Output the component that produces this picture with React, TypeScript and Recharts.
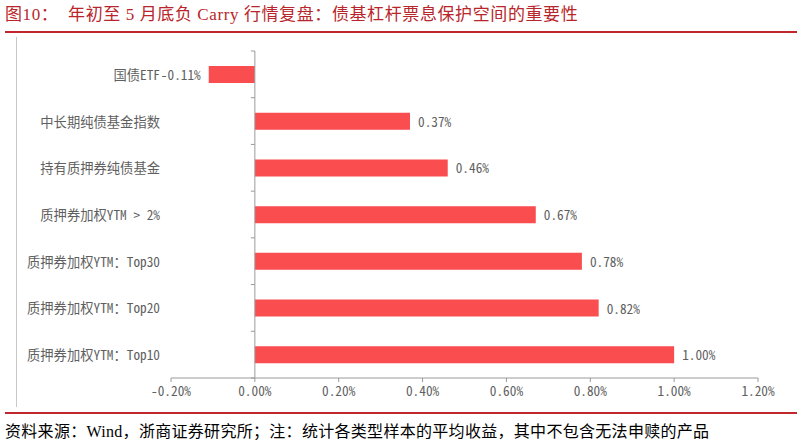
import React from 'react';
import { BarChart, Bar, XAxis, YAxis, ReferenceLine, LabelList } from 'recharts';

// Categories (top to bottom) and average return (%) for each sample group
const categories = [
  '国债ETF',
  '中长期纯债基金指数',
  '持有质押券纯债基金',
  '质押券加权YTM > 2%',
  '质押券加权YTM：Top30',
  '质押券加权YTM：Top20',
  '质押券加权YTM：Top10',
];
const returns = [-0.11, 0.37, 0.46, 0.67, 0.78, 0.82, 1.0];
const xTicks = [-0.2, 0, 0.2, 0.4, 0.6, 0.8, 1.0, 1.2];

const titleText = '图10：  年初至 5 月底负 Carry 行情复盘：债基杠杆票息保护空间的重要性';
const sourceText = '资料来源：Wind，浙商证券研究所；注：统计各类型样本的平均收益，其中不包含无法申赎的产品';

const data = categories.map((name, i) => ({ name, value: returns[i] }));

// Layout
const W = 802;
const H = 444;
const PLOT_LEFT = 171;
const PLOT_RIGHT = 758;
const PLOT_TOP = 51;
const PLOT_BOTTOM = 378;
const X_AXIS_H = 30;
const X_MIN = -0.2;
const X_MAX = 1.2;
const BAND = (PLOT_BOTTOM - PLOT_TOP) / categories.length;
const ZERO_X = PLOT_LEFT + ((PLOT_RIGHT - PLOT_LEFT) * (0 - X_MIN)) / (X_MAX - X_MIN);

// Styles
const BAR_COLOR = '#FA4D50';
const AXIS_COLOR = '#9A9A9A';
const TEXT_COLOR = '#5F5F5F';
const RED = '#C0282D';
const LABEL_FONT = '"Noto Sans Mono CJK SC", "Noto Sans CJK SC", sans-serif';
const SERIF_FONT = '"Liberation Serif", "Noto Sans CJK SC", serif';
const LABEL_SIZE = 13.3;

const fmtPct = (v: number) => `${v.toFixed(2)}%`;

// Category label plus the short tick marks on the zero axis between bands
const CategoryTick = (props: any) => {
  const { x, y, payload } = props;
  const half = BAND / 2;
  const isLast = payload.value === categories[categories.length - 1];
  return (
    <g>
      <text
        x={x}
        y={y}
        textAnchor="end"
        dominantBaseline="central"
        fill={TEXT_COLOR}
        fontSize={LABEL_SIZE}
        fontFamily={LABEL_FONT}
      >
        {payload.value}
      </text>
      <line x1={ZERO_X - 4} x2={ZERO_X} y1={y - half} y2={y - half} stroke={AXIS_COLOR} strokeWidth={1} />
      {isLast && (
        <line x1={ZERO_X - 4} x2={ZERO_X} y1={y + half} y2={y + half} stroke={AXIS_COLOR} strokeWidth={1} />
      )}
    </g>
  );
};

// Value label at the outer end of each bar
const ValueLabel = (props: any) => {
  const vb = props.viewBox ?? props;
  const { x, y, width, height } = vb;
  const value = Number(props.value);
  const neg = value < 0;
  const left = Math.min(x, x + width);
  const right = Math.max(x, x + width);
  const lx = neg ? left - 8 : right + 8;
  return (
    <text
      x={lx}
      y={y + height / 2}
      textAnchor={neg ? 'end' : 'start'}
      dominantBaseline="central"
      fill={TEXT_COLOR}
      fontSize={LABEL_SIZE}
      fontFamily={LABEL_FONT}
    >
      {fmtPct(value)}
    </text>
  );
};

export default function App() {
  return (
    <div
      style={{
        position: 'absolute',
        left: 0,
        top: 0,
        width: W,
        height: H,
        background: '#fff',
        overflow: 'hidden',
      }}
    >
      <div
        style={{
          position: 'absolute',
          left: 5,
          top: 5,
          lineHeight: '20px',
          fontSize: 17,
          letterSpacing: 0.6,
          fontFamily: SERIF_FONT,
          color: '#B8262B',
          whiteSpace: 'pre',
        }}
      >
        {titleText}
      </div>
      <div style={{ position: 'absolute', left: 5, top: 31, width: 792, height: 1.5, background: RED }} />
      <div style={{ position: 'absolute', left: 16, top: 37, width: 1, height: 370, background: '#C8C8C8' }} />

      <div style={{ position: 'absolute', left: 0, top: 0 }}>
        <BarChart
          width={W}
          height={H}
          data={data}
          layout="vertical"
          margin={{ top: PLOT_TOP, right: W - PLOT_RIGHT, bottom: H - PLOT_BOTTOM - X_AXIS_H, left: 0 }}
        >
          <XAxis
            type="number"
            domain={[X_MIN, X_MAX]}
            ticks={xTicks}
            tickFormatter={fmtPct}
            height={X_AXIS_H}
            tickSize={4}
            tickMargin={5}
            axisLine={{ stroke: AXIS_COLOR }}
            tickLine={{ stroke: AXIS_COLOR }}
            tick={{ fill: TEXT_COLOR, fontSize: LABEL_SIZE, fontFamily: LABEL_FONT }}
            interval={0}
          />
          <YAxis
            type="category"
            dataKey="name"
            width={PLOT_LEFT}
            axisLine={false}
            tickLine={false}
            tickSize={0}
            tickMargin={11}
            tick={<CategoryTick />}
            interval={0}
          />
          <ReferenceLine x={0} stroke={AXIS_COLOR} strokeWidth={1} />
          <Bar dataKey="value" fill={BAR_COLOR} barSize={17} isAnimationActive={false}>
            <LabelList dataKey="value" content={<ValueLabel />} />
          </Bar>
        </BarChart>
      </div>

      <div style={{ position: 'absolute', left: 5, top: 412, width: 792, height: 1.5, background: RED }} />
      <div
        style={{
          position: 'absolute',
          left: 5,
          top: 422,
          lineHeight: '20px',
          fontSize: 16,
          letterSpacing: 0.3,
          fontFamily: SERIF_FONT,
          color: '#000',
          whiteSpace: 'pre',
        }}
      >
        {sourceText}
      </div>
    </div>
  );
}
